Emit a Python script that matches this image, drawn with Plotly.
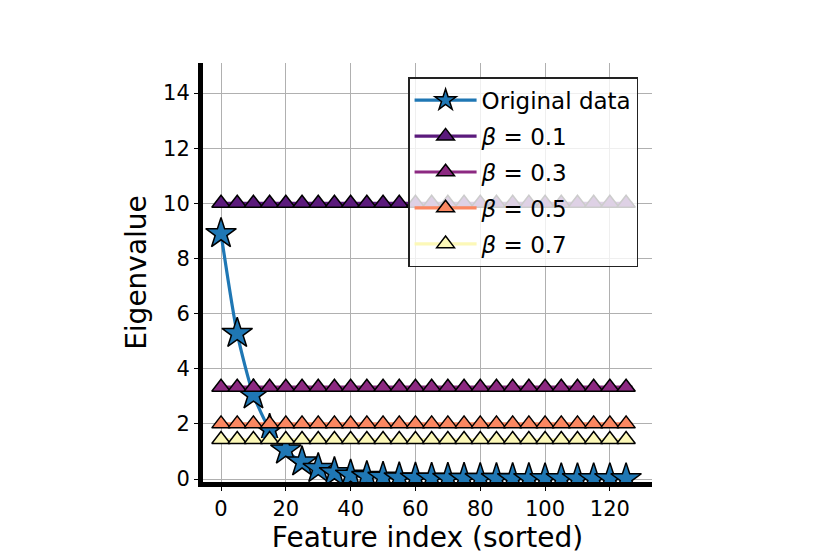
import plotly.graph_objects as go

# ---- data ----
marker_idx = [0, 5, 10, 15, 20, 25, 30, 35, 40, 45, 50, 55, 60, 65, 70, 75, 80, 85,
              90, 95, 100, 105, 110, 115, 120, 125, 127]
original_eig = [8.9, 5.28, 3.05, 1.8, 1.05, 0.62, 0.38, 0.23, 0.14, 0.09, 0.06, 0.04,
                0.03, 0.025, 0.02, 0.02, 0.015, 0.015, 0.012, 0.012, 0.01, 0.01, 0.01,
                0.01, 0.01, 0.01, 0.01]
beta_labels = ["0.1", "0.3", "0.5", "0.7"]
beta_levels = [10.0, 3.33, 2.0, 1.43]
beta_colors = ["#5b1a7c", "#8c2981", "#fb8761", "#fcf8b8"]
x_ticks = [0, 20, 40, 60, 80, 100, 120]
y_ticks = [0, 2, 4, 6, 8, 10, 12, 14]

FONT = "DejaVu Sans"
n = len(marker_idx)
sizes_tri = [16] * (n - 1) + [0]
sizes_star = [23] * (n - 1) + [0]

fig = go.Figure()

fig.add_trace(go.Scatter(
    x=marker_idx, y=original_eig, mode="lines+markers", name="Original data",
    legendgroup="orig",
    line=dict(color="#1f77b4", width=3.2, shape="spline", smoothing=0.7),
    marker=dict(symbol="star", size=sizes_star, color="#1f77b4", opacity=1,
                line=dict(color="black", width=1.5)),
))

for lab, lev, col in zip(beta_labels, beta_levels, beta_colors):
    fig.add_trace(go.Scatter(
        x=marker_idx, y=[lev] * n, mode="lines+markers",
        name=f"<i>β</i> = {lab}", legendgroup="b" + lab,
        line=dict(color=col, width=3.2),
        marker=dict(symbol="triangle-up", size=sizes_tri, color=col, opacity=1,
                    line=dict(color="black", width=1.5)),
    ))

# page body has an 8px margin; compensate so the plot area lands where the reference has it
fig.update_layout(
    width=830, height=554,
    paper_bgcolor="white", plot_bgcolor="white",
    margin=dict(l=195, r=186, t=55, b=80),
    font=dict(family=FONT, size=21, color="black"),
    showlegend=True,
    legend=dict(
        x=0.969, y=0.966, xanchor="right", yanchor="top",
        bgcolor="rgba(255,255,255,0.8)", bordercolor="#222", borderwidth=1.5,
        font=dict(family=FONT, size=23, color="black"),
        itemwidth=62, tracegroupgap=3,
    ),
    xaxis=dict(
        range=[-5.56, 133.0], tickvals=x_ticks, ticktext=[str(v) for v in x_ticks],
        automargin=False,
        showgrid=True, gridcolor="#b0b0b0", gridwidth=1.2, zeroline=False,
        showline=True, linecolor="black", linewidth=5, mirror=False,
        ticks="outside", ticklen=4, tickwidth=1.2, tickcolor="black",
        tickfont=dict(family=FONT, size=21),
        title=dict(text="Feature index (sorted)", font=dict(family=FONT, size=28), standoff=9),
    ),
    yaxis=dict(
        range=[-0.109, 15.09], tickvals=y_ticks, ticktext=[str(v) for v in y_ticks],
        automargin=False,
        showgrid=True, gridcolor="#b0b0b0", gridwidth=1.2, zeroline=False,
        showline=True, linecolor="black", linewidth=5, mirror=False,
        ticks="outside", ticklen=4, tickwidth=1.2, tickcolor="black",
        tickfont=dict(family=FONT, size=21),
        title=dict(text="Eigenvalue", font=dict(family=FONT, size=28), standoff=10),
    ),
)

fig.write_html("out.html")
